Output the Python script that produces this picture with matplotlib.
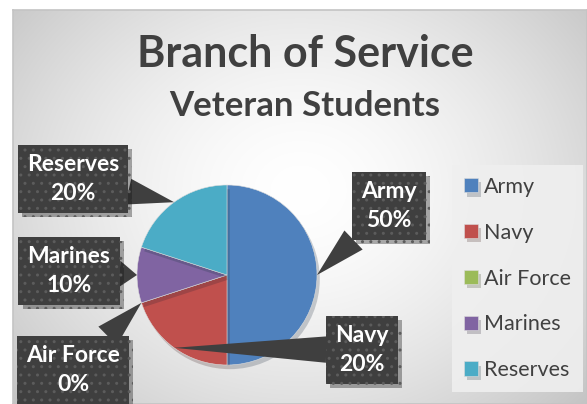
import numpy as np
import matplotlib.pyplot as plt
import matplotlib.patheffects as pe

plt.rcParams["font.family"] = ["Lato", "DejaVu Sans"]

# data
branches = ["Army", "Navy", "Air Force", "Marines", "Reserves"]
shares = [50, 20, 0, 10, 20]
colors = ["#4F81BD", "#C0504D", "#9BBB59", "#8064A2", "#4BACC6"]

# callout box centres (pixel coords, y from top)
label_pos = {
    "Army": (389, 206),
    "Navy": (362, 350),
    "Air Force": (73, 370),
    "Marines": (69, 271),
    "Reserves": (73, 179),
}

W, H = 587, 404
fig = plt.figure(figsize=(W / 100, H / 100), dpi=100)
fig.patch.set_facecolor("white")

# gradient chart area
bg = fig.add_axes([13 / W, 0, 1 - 13 / W, (H - 10) / H])
yy, xx = np.mgrid[10:H, 13:W]
d = np.hypot(xx - 300, (yy - 190) * 1.2) / 360
v = np.clip(1 - 0.21 * d ** 1.6, 0, 1)
bg.imshow(np.dstack([v, v, v]), aspect="auto", extent=[0, 1, 0, 1])
bg.set_xticks([])
bg.set_yticks([])
for s in bg.spines.values():
    s.set_color("#c4c4c4")
    s.set_linewidth(1.2)

ax = fig.add_axes([0, 0, 1, 1])
ax.patch.set_alpha(0)
cx, cy, r = 227, H - 275, 90
wedges, _ = ax.pie(shares, colors=colors, startangle=90, counterclock=False,
                   center=(cx, cy), radius=r,
                   wedgeprops=dict(linewidth=0.4, edgecolor="#dcdcdc"))
for w in wedges:
    w.set_path_effects([pe.SimplePatchShadow(offset=(2, -3), alpha=0.22), pe.Normal()])
ax.set_xlim(0, W)
ax.set_ylim(0, H)
ax.set_aspect("equal")
ax.axis("off")

# callouts
total = sum(shares)
start = 0.0
for name, val in zip(branches, shares):
    mid = np.deg2rad((start + val / 2) / total * 360)
    start += val
    tip = (cx + r * np.sin(mid), cy + r * np.cos(mid))
    bx, by = label_pos[name]
    t = ax.annotate(f"{name}\n{val}%", xy=tip, xytext=(bx, H - by),
                    ha="center", va="center", fontsize=16.5, fontweight="bold",
                    color="white", linespacing=1.45,
                    bbox=dict(boxstyle="square,pad=0.4", fc="#3f3f3f",
                              ec="#5c5c5c", lw=0, hatch=".."),
                    arrowprops=dict(arrowstyle="wedge,tail_width=1.15", fc="#3f3f3f",
                                    ec="none", shrinkA=0, shrinkB=0))
    t.get_bbox_patch().set_path_effects(
        [pe.SimplePatchShadow(offset=(3, -3), alpha=0.35), pe.Normal()])

# legend
leg = ax.legend(wedges, branches, loc="upper left",
                bbox_to_anchor=(452 / W, 1 - 165 / H), bbox_transform=fig.transFigure,
                frameon=True, fontsize=15.5, labelspacing=1.2, handlelength=0.65,
                handleheight=0.65, handletextpad=0.3, borderpad=0.55,
                borderaxespad=0, labelcolor="#404040")
leg.get_frame().set_facecolor("#efefef")
leg.get_frame().set_edgecolor("none")
leg.get_frame().set_alpha(0.9)
leg.get_frame().set_boxstyle("square", pad=0)

# titles
fig.text(305 / W, 1 - 54 / H, "Branch of Service", ha="center", va="center",
         fontsize=31, fontweight="bold", color="#404040")
fig.text(305 / W, 1 - 106 / H, "Veteran Students", ha="center", va="center",
         fontsize=25, fontweight="bold", color="#404040")

fig.savefig("out.png", dpi=100)
